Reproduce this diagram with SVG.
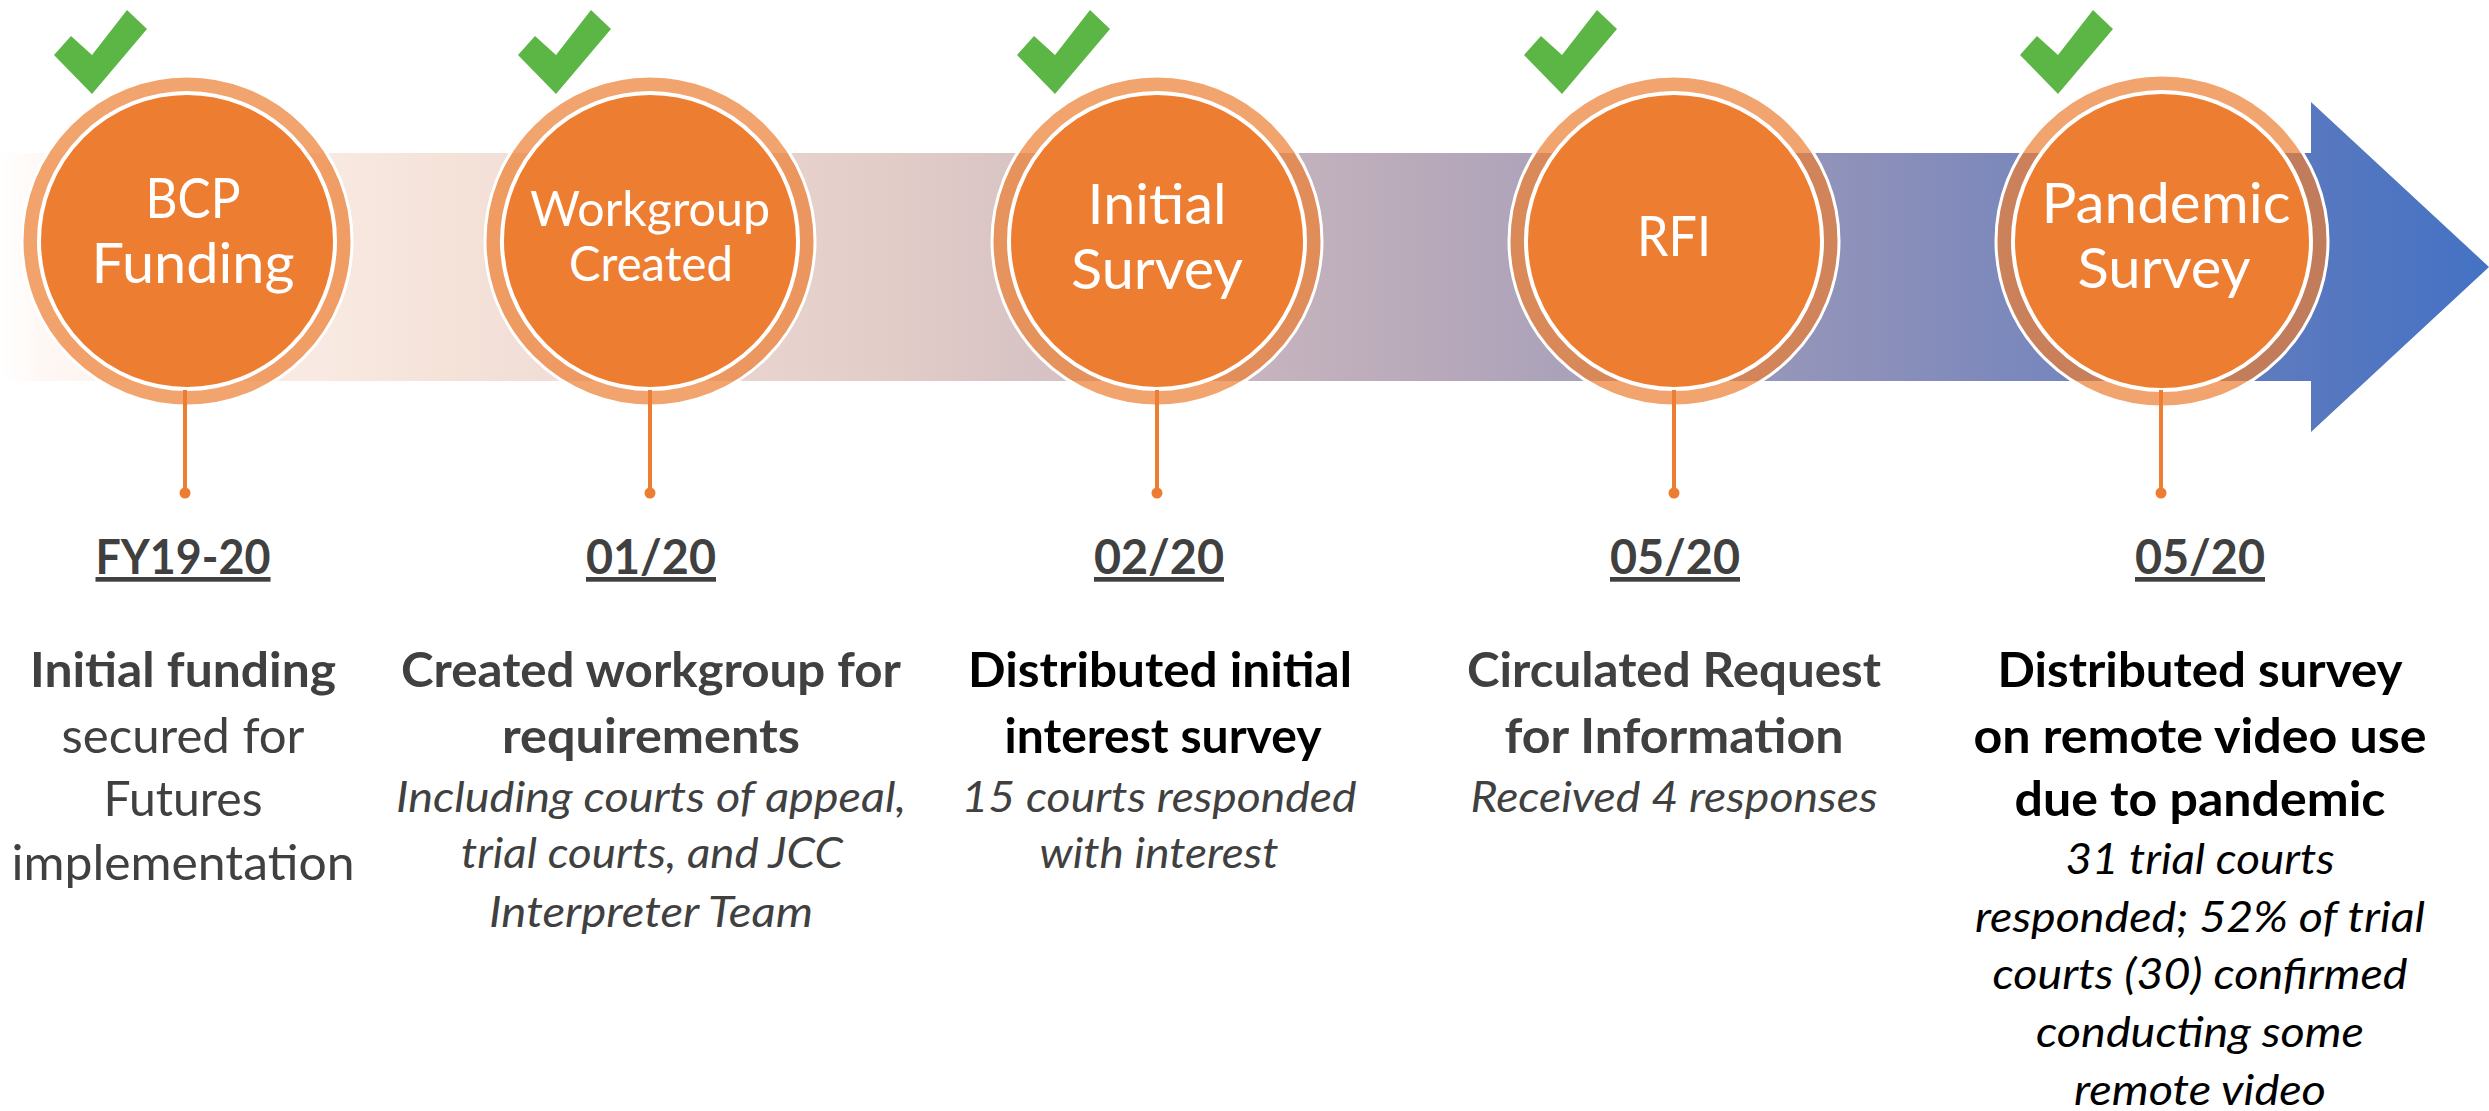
<svg xmlns="http://www.w3.org/2000/svg" xmlns:xlink="http://www.w3.org/1999/xlink" width="2489" height="1111" viewBox="0 0 2489 1111">
<defs>
<linearGradient id="bandGrad" gradientUnits="userSpaceOnUse" x1="0" y1="0" x2="2489" y2="0">
<stop offset="0" stop-color="#FFFFFF"/>
<stop offset="0.02" stop-color="#FEF7F3"/>
<stop offset="0.177" stop-color="#F5E3DA"/>
<stop offset="0.36" stop-color="#E2CCC8"/>
<stop offset="0.57" stop-color="#B9AABA"/>
<stop offset="0.76" stop-color="#8A8FBA"/>
<stop offset="0.94" stop-color="#5577C0"/>
<stop offset="1" stop-color="#4472C4"/>
</linearGradient>
<path id="check" d="M0,0 L-38,-39 L-21,-58 L0,-39 L35,-84 L55,-65 Z" fill="#5CB646"/>
</defs>
<style>
.ring{fill:#ED7D31;fill-opacity:0.7;stroke:#FFFFFF;stroke-width:3}
.core{fill:#ED7D31;stroke:#FFFFFF;stroke-width:4}
.lbl{font-family:Lato,"Liberation Sans",sans-serif;font-weight:400;fill:#FFFFFF;text-anchor:middle}
.date{font-family:Lato,"Liberation Sans",sans-serif;font-weight:700;font-size:47px;fill:#404040;text-anchor:middle;text-decoration:underline}
.b{font-family:Lato,"Liberation Sans",sans-serif;font-weight:700;font-size:48px;text-anchor:middle}
.r{font-family:Lato,"Liberation Sans",sans-serif;font-weight:400;font-size:48px;text-anchor:middle}
.i{font-family:Lato,"Liberation Sans",sans-serif;font-weight:400;font-style:italic;font-size:42px;text-anchor:middle}
.g{fill:#404040}
.k{fill:#000000}
.stem{stroke:#ED7D31;stroke-width:4}
.dot{fill:#ED7D31}
</style>
<rect width="2489" height="1111" fill="#FFFFFF"/>
<g id="timeline">
<path d="M0,153 H2311 V102 L2489,267 L2311,432 V381 H0 Z" fill="url(#bandGrad)"/>
</g>
<g id="node-bcp">
<circle class="ring" cx="187" cy="241" r="165"/>
<circle class="core" cx="187" cy="241" r="148"/>
<use xlink:href="#check" href="#check" transform="translate(92,94)"/>
<text class="lbl" x="193" y="218" font-size="57" textLength="95" lengthAdjust="spacingAndGlyphs">BCP</text>
<text class="lbl" x="193" y="283" font-size="57" textLength="203" lengthAdjust="spacingAndGlyphs">Funding</text>
<text class="date" x="183" y="574" textLength="175" lengthAdjust="spacingAndGlyphs">FY19-20</text>
<text class="b g" x="183" y="687" textLength="306" lengthAdjust="spacingAndGlyphs">Initial funding</text>
<text class="r g" x="183" y="753" textLength="243" lengthAdjust="spacingAndGlyphs">secured for</text>
<text class="r g" x="183" y="816" textLength="159" lengthAdjust="spacingAndGlyphs">Futures</text>
<text class="r g" x="183" y="880" textLength="343" lengthAdjust="spacingAndGlyphs">implementation</text>
</g>
<g id="node-workgroup">
<circle class="ring" cx="650" cy="241" r="165"/>
<circle class="core" cx="650" cy="241" r="148"/>
<use xlink:href="#check" href="#check" transform="translate(556,94)"/>
<text class="lbl" x="650" y="226" font-size="48" textLength="240" lengthAdjust="spacingAndGlyphs">Workgroup</text>
<text class="lbl" x="651" y="281" font-size="48" textLength="164" lengthAdjust="spacingAndGlyphs">Created</text>
<text class="date" x="651" y="574" textLength="130" lengthAdjust="spacingAndGlyphs">01/20</text>
<text class="b g" x="651" y="687" textLength="500" lengthAdjust="spacingAndGlyphs">Created workgroup for</text>
<text class="b g" x="651" y="753" textLength="298" lengthAdjust="spacingAndGlyphs">requirements</text>
<text class="i g" x="651" y="812" textLength="510" lengthAdjust="spacingAndGlyphs">Including courts of appeal,</text>
<text class="i g" x="652" y="868" textLength="382" lengthAdjust="spacingAndGlyphs">trial courts, and JCC</text>
<text class="i g" x="651" y="927" textLength="324" lengthAdjust="spacingAndGlyphs">Interpreter Team</text>
</g>
<g id="node-initial-survey">
<circle class="ring" cx="1157" cy="241" r="165"/>
<circle class="core" cx="1157" cy="241" r="148"/>
<use xlink:href="#check" href="#check" transform="translate(1055,94)"/>
<text class="lbl" x="1157" y="224" font-size="57" textLength="139" lengthAdjust="spacingAndGlyphs">Initial</text>
<text class="lbl" x="1157" y="289" font-size="57" textLength="172" lengthAdjust="spacingAndGlyphs">Survey</text>
<text class="date" x="1159" y="574" textLength="130" lengthAdjust="spacingAndGlyphs">02/20</text>
<text class="b k" x="1160" y="687" textLength="384" lengthAdjust="spacingAndGlyphs">Distributed initial</text>
<text class="b k" x="1163" y="753" textLength="317" lengthAdjust="spacingAndGlyphs">interest survey</text>
<text class="i g" x="1159" y="812" textLength="395" lengthAdjust="spacingAndGlyphs">15 courts responded</text>
<text class="i g" x="1159" y="868" textLength="239" lengthAdjust="spacingAndGlyphs">with interest</text>
</g>
<g id="node-rfi">
<circle class="ring" cx="1674" cy="241" r="165"/>
<circle class="core" cx="1674" cy="241" r="148"/>
<use xlink:href="#check" href="#check" transform="translate(1562,94)"/>
<text class="lbl" x="1674" y="256" font-size="57" textLength="74" lengthAdjust="spacingAndGlyphs">RFI</text>
<text class="date" x="1675" y="574" textLength="130" lengthAdjust="spacingAndGlyphs">05/20</text>
<text class="b g" x="1674" y="687" textLength="414" lengthAdjust="spacingAndGlyphs">Circulated Request</text>
<text class="b g" x="1674" y="753" textLength="339" lengthAdjust="spacingAndGlyphs">for Information</text>
<text class="i g" x="1674" y="812" textLength="407" lengthAdjust="spacingAndGlyphs">Received 4 responses</text>
</g>
<g id="node-pandemic-survey">
<circle class="ring" cx="2162" cy="241" r="166"/>
<circle class="core" cx="2162" cy="241" r="149"/>
<use xlink:href="#check" href="#check" transform="translate(2058,94)"/>
<text class="lbl" x="2166" y="223" font-size="57" textLength="249" lengthAdjust="spacingAndGlyphs">Pandemic</text>
<text class="lbl" x="2164" y="288" font-size="57" textLength="173" lengthAdjust="spacingAndGlyphs">Survey</text>
<text class="date" x="2200" y="574" textLength="130" lengthAdjust="spacingAndGlyphs">05/20</text>
<text class="b k" x="2200" y="687" textLength="405" lengthAdjust="spacingAndGlyphs">Distributed survey</text>
<text class="b k" x="2200" y="753" textLength="453" lengthAdjust="spacingAndGlyphs">on remote video use</text>
<text class="b k" x="2200" y="816" textLength="371" lengthAdjust="spacingAndGlyphs">due to pandemic</text>
<text class="i k" x="2200" y="874" textLength="269" lengthAdjust="spacingAndGlyphs">31 trial courts</text>
<text class="i k" x="2200" y="932" textLength="450" lengthAdjust="spacingAndGlyphs">responded; 52% of trial</text>
<text class="i k" x="2200" y="989" textLength="415" lengthAdjust="spacingAndGlyphs">courts (30) confirmed</text>
<text class="i k" x="2200" y="1047" textLength="328" lengthAdjust="spacingAndGlyphs">conducting some</text>
<text class="i k" x="2200" y="1105" textLength="252" lengthAdjust="spacingAndGlyphs">remote video</text>
</g>
<g id="connectors">
<line class="stem" x1="185" y1="390" x2="185" y2="493"/>
<circle class="dot" cx="185" cy="493" r="5.5"/>
<line class="stem" x1="650" y1="390" x2="650" y2="493"/>
<circle class="dot" cx="650" cy="493" r="5.5"/>
<line class="stem" x1="1157" y1="390" x2="1157" y2="493"/>
<circle class="dot" cx="1157" cy="493" r="5.5"/>
<line class="stem" x1="1674" y1="390" x2="1674" y2="493"/>
<circle class="dot" cx="1674" cy="493" r="5.5"/>
<line class="stem" x1="2161" y1="390" x2="2161" y2="493"/>
<circle class="dot" cx="2161" cy="493" r="5.5"/>
</g>
</svg>
